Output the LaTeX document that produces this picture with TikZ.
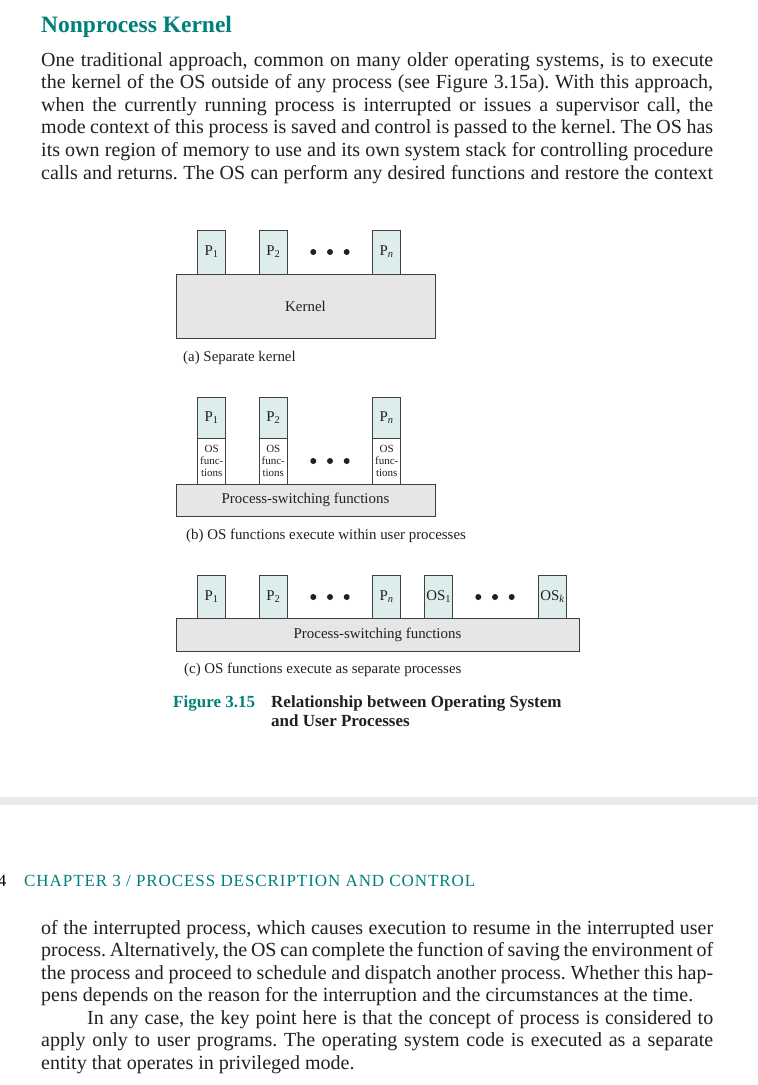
\documentclass[tikz,border=0pt]{standalone}
\usepackage{fontspec}
\setmainfont{Liberation Serif}
\usetikzlibrary{positioning}
\definecolor{headteal}{RGB}{0,128,122}
\definecolor{procfill}{RGB}{221,237,236}
\definecolor{kernfill}{RGB}{230,230,230}
\definecolor{barfill}{RGB}{234,234,234}
\definecolor{inkgray}{RGB}{35,31,32}
\newcommand{\bodysize}{\fontsize{20}{22.5}\selectfont}
\newcommand{\figsize}{\fontsize{14.9}{16}\selectfont}
\newcommand{\capsize}{\fontsize{17}{19}\selectfont\bfseries}
\newcommand{\fullline}[1]{\makebox[672pt][s]{#1}}
\frenchspacing

\begin{document}
\begin{tikzpicture}[x=1pt,y=-1pt,text=inkgray,
	bodyline/.style={anchor=base west,inner sep=0,font=\bodysize},
	procbox/.style={draw=black!75,line width=0.8pt,fill=procfill,minimum width=28,inner sep=0,outer sep=0,font=\figsize},
	osbox/.style={draw=black!75,line width=0.8pt,fill=white,minimum width=28,minimum height=46,inner sep=0,outer sep=0,align=center,font=\fontsize{11}{11.8}\selectfont},
	kernbox/.style={draw=black!75,line width=0.8pt,fill=kernfill,inner sep=0,outer sep=0,font=\figsize},
	subcap/.style={anchor=base west,inner sep=0,font=\figsize},
	bigdot/.style={circle,fill=inkgray,minimum size=6,inner sep=0}]
	\useasboundingbox (0,0) rectangle (758,1085);
	\fill[white] (0,0) rectangle (758,1085);
	% heading and first paragraph
	\node[anchor=base west,inner sep=0,font=\fontsize{23.5}{27}\selectfont\bfseries,text=headteal] (heading) at (41,32) {Nonprocess Kernel};
	\node[bodyline] (top1) at (41,66) {\fullline{One traditional approach, common on many older operating systems, is to execute}};
	\node[bodyline] (top2) at (41,88.6) {\fullline{the kernel of the OS outside of any process (see Figure 3.15a). With this approach,}};
	\node[bodyline] (top3) at (41,111.2) {\fullline{when the currently running process is interrupted or issues a supervisor call, the}};
	\node[bodyline] (top4) at (41,133.8) {\fullline{mode context of this process is saved and control is passed to the kernel. The OS has}};
	\node[bodyline] (top5) at (41,156.4) {\fullline{its own region of memory to use and its own system stack for controlling procedure}};
	\node[bodyline] (top6) at (41,179) {\fullline{calls and returns. The OS can perform any desired functions and restore the context}};
	% (a) separate kernel
	\node[kernbox,minimum width=259,minimum height=64] (kernel) at (305.5,306) {Kernel};
	\node[procbox,minimum height=44] (pa1) at (211.7,252) {P\textsubscript{1}};
	\node[procbox,minimum height=44] (pa2) at (273.3,252) {P\textsubscript{2}};
	\node[procbox,minimum height=44] (pan) at (386.7,252) {P\textsubscript{\textit{n}}};
	\node[bigdot] (da1) at (313.3,252) {};
	\node[bigdot] (da2) at (330,252) {};
	\node[bigdot] (da3) at (346.7,252) {};
	\node[subcap] (capa) at (183,361) {(a) Separate kernel};
	% (b) OS functions inside user processes
	\node[kernbox,minimum width=259,minimum height=32] (switchb) at (305.5,500) {Process-switching functions};
	\node[procbox,minimum height=41] (pb1) at (211.7,417.5) {P\textsubscript{1}};
	\node[procbox,minimum height=41] (pb2) at (273.3,417.5) {P\textsubscript{2}};
	\node[procbox,minimum height=41] (pbn) at (386.7,417.5) {P\textsubscript{\textit{n}}};
	\node[osbox,below=0pt of pb1] (ob1) {OS\\func-\\tions};
	\node[osbox,below=0pt of pb2] (ob2) {OS\\func-\\tions};
	\node[osbox,below=0pt of pbn] (obn) {OS\\func-\\tions};
	\node[bigdot] (db1) at (313.3,461) {};
	\node[bigdot] (db2) at (330,461) {};
	\node[bigdot] (db3) at (346.7,461) {};
	\node[subcap] (capb) at (186,539) {(b) OS functions execute within user processes};
	% (c) OS functions as separate processes
	\node[kernbox,minimum width=403,minimum height=33] (switchc) at (377.5,634.5) {Process-switching functions};
	\node[procbox,minimum height=43] (pc1) at (211.7,596.5) {P\textsubscript{1}};
	\node[procbox,minimum height=43] (pc2) at (273.3,596.5) {P\textsubscript{2}};
	\node[procbox,minimum height=43] (pcn) at (386.7,596.5) {P\textsubscript{\textit{n}}};
	\node[procbox,minimum height=43] (osc1) at (438.8,596.5) {OS\textsubscript{1}};
	\node[procbox,minimum height=43] (osck) at (552.5,596.5) {OS\textsubscript{\textit{k}}};
	\node[bigdot] (dc1) at (313.3,597) {};
	\node[bigdot] (dc2) at (330,597) {};
	\node[bigdot] (dc3) at (346.7,597) {};
	\node[bigdot] (dc4) at (478.3,597) {};
	\node[bigdot] (dc5) at (495,597) {};
	\node[bigdot] (dc6) at (511.7,597) {};
	\node[subcap] (capc) at (184,673) {(c) OS functions execute as separate processes};
	% figure caption
	\node[anchor=base west,inner sep=0,font=\capsize,text=headteal] (figno) at (173,707) {Figure 3.15};
	\node[anchor=base west,inner sep=0,font=\capsize] (figtitle) at (271,707) {Relationship between Operating System};
	\node[anchor=base west,inner sep=0,font=\capsize] (figtitle2) at (271,726) {and User Processes};
	% page break and running head
	\node[fill=barfill,minimum width=758,minimum height=8,inner sep=0] (pagebar) at (379,801) {};
	\node[anchor=base east,inner sep=0,font=\fontsize{17}{19}\selectfont,text=black] (pageno) at (6.5,886) {4};
	\node[anchor=base west,inner sep=0,font=\fontsize{17}{19}\selectfont\addfontfeature{LetterSpace=5.5},text=headteal] (chaphead) at (24,886) {CHAPTER 3 / PROCESS DESCRIPTION AND CONTROL};
	% second paragraph
	\node[bodyline] (bot1) at (41,934) {\fullline{of the interrupted process, which causes execution to resume in the interrupted user}};
	\node[bodyline] (bot2) at (41,956.5) {\fullline{process. Alternatively, the OS can complete the function of saving the environment of}};
	\node[bodyline] (bot3) at (41,979) {\fullline{the process and proceed to schedule and dispatch another process. Whether this hap-}};
	\node[bodyline] (bot4) at (41,1001.5) {pens depends on the reason for the interruption and the circumstances at the time.};
	\node[bodyline] (bot5) at (87,1024) {\makebox[626pt][s]{In any case, the key point here is that the concept of process is considered to}};
	\node[bodyline] (bot6) at (41,1046.5) {\fullline{apply only to user programs. The operating system code is executed as a separate}};
	\node[bodyline] (bot7) at (41,1069) {entity that operates in privileged mode.};
\end{tikzpicture}
\end{document}
